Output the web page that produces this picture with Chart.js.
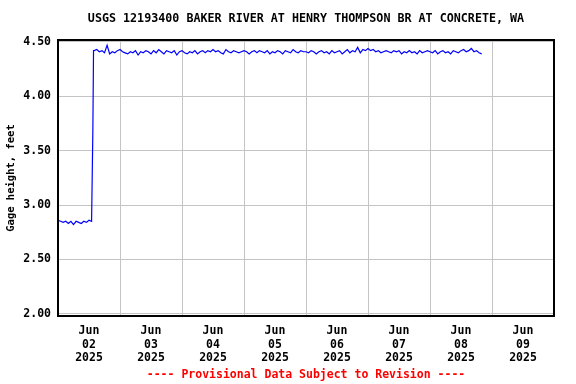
<!DOCTYPE html>
<html>
<head>
<meta charset="utf-8">
<script src="https://cdn.jsdelivr.net/npm/chart.js@4/dist/chart.umd.min.js"></script>
<style>
	html, body { margin: 0; padding: 0; background: #fff; }
	#wrap { width: 576px; height: 384px; }
</style>
</head>
<body>
<div id="wrap"><canvas id="chart" width="576" height="384"></canvas></div>
<script>
const TITLE = "USGS 12193400 BAKER RIVER AT HENRY THOMPSON BR AT CONCRETE, WA";
const FOOTER = "---- Provisional Data Subject to Revision ----";
const Y_TITLE = "Gage height, feet";

// x is hours since Jun 02 2025 00:00
const DAY_LABELS = ["Jun\n02\n2025", "Jun\n03\n2025", "Jun\n04\n2025", "Jun\n05\n2025",
	"Jun\n06\n2025", "Jun\n07\n2025", "Jun\n08\n2025", "Jun\n09\n2025"];
const Y_TICKS = [2.0, 2.5, 3.0, 3.5, 4.0, 4.5];

// hourly gage height readings, hour 0 .. 164
const lowLevel = [2.86, 2.85, 2.84, 2.85, 2.83, 2.85, 2.82, 2.85, 2.84, 2.83, 2.85, 2.84, 2.86, 2.85];
const jun02 = [4.42, 4.43, 4.41, 4.42, 4.40, 4.47, 4.39, 4.41, 4.40, 4.42];
const jun03 = [4.43, 4.41, 4.40, 4.39, 4.41, 4.40, 4.42, 4.38, 4.41, 4.40, 4.42, 4.41,
	4.39, 4.42, 4.40, 4.43, 4.41, 4.39, 4.42, 4.41, 4.40, 4.42, 4.38, 4.41];
const jun04 = [4.42, 4.40, 4.39, 4.41, 4.40, 4.42, 4.39, 4.41, 4.42, 4.40, 4.42, 4.41,
	4.43, 4.41, 4.42, 4.40, 4.39, 4.43, 4.41, 4.40, 4.42, 4.41, 4.40, 4.41];
const jun05 = [4.42, 4.41, 4.39, 4.41, 4.42, 4.40, 4.42, 4.41, 4.40, 4.42, 4.39, 4.41,
	4.40, 4.42, 4.41, 4.39, 4.42, 4.41, 4.40, 4.43, 4.41, 4.40, 4.42, 4.41];
const jun06 = [4.41, 4.40, 4.42, 4.41, 4.39, 4.41, 4.42, 4.40, 4.41, 4.39, 4.42, 4.40,
	4.41, 4.42, 4.39, 4.41, 4.43, 4.40, 4.42, 4.41, 4.45, 4.40, 4.43, 4.42];
const jun07 = [4.44, 4.42, 4.43, 4.41, 4.42, 4.40, 4.41, 4.42, 4.41, 4.40, 4.42, 4.41,
	4.42, 4.39, 4.41, 4.40, 4.42, 4.40, 4.41, 4.39, 4.42, 4.40, 4.41, 4.42];
const jun08 = [4.41, 4.40, 4.42, 4.39, 4.41, 4.42, 4.40, 4.41, 4.39, 4.42, 4.41, 4.40,
	4.42, 4.43, 4.41, 4.42, 4.44, 4.41, 4.42, 4.40, 4.39];
// the jump between hour 13 and 14
const jumpHours = [13.5, 13.75];
const jumpValues = [3.70, 4.42];

const hourly = [...lowLevel, ...jun02, ...jun03, ...jun04, ...jun05, ...jun06, ...jun07, ...jun08];
const points = hourly.map((y, x) => ({ x, y }));
jumpHours.forEach((h, i) => points.splice(14 + i, 0, { x: h, y: jumpValues[i] }));

const FONT = "'DejaVu Sans Mono', monospace";
Chart.defaults.font.family = FONT;
Chart.defaults.font.weight = "bold";
Chart.defaults.color = "#000";

const frameAndText = {
	id: "frameAndText",
	afterDraw(chart) {
		const { ctx, chartArea: a } = chart;
		ctx.save();
		ctx.strokeStyle = "#000";
		ctx.lineWidth = 2;
		ctx.strokeRect(a.left, a.top, a.right - a.left, a.bottom - a.top);
		const cx = (a.left + a.right) / 2;
		ctx.textAlign = "center";
		ctx.textBaseline = "middle";
		ctx.fillStyle = "#000";
		ctx.font = `bold 11.7px ${FONT}`;
		ctx.fillText(TITLE, cx, 19);
		ctx.fillStyle = "#f00";
		ctx.font = `bold 11.5px ${FONT}`;
		ctx.fillText(FOOTER, cx, 375);
		ctx.restore();
	},
};

new Chart(document.getElementById("chart"), {
	type: "line",
	data: {
		datasets: [{
			data: points,
			borderColor: "#0000ff",
			borderWidth: 1.2,
			pointRadius: 0,
			tension: 0,
		}],
	},
	options: {
		responsive: false,
		animation: false,
		layout: { padding: { top: 40, right: 22, bottom: 20, left: 0 } },
		plugins: { legend: { display: false }, tooltip: { enabled: false } },
		scales: {
			x: {
				type: "linear",
				min: 0,
				max: 192,
				afterBuildTicks: (s) => { s.ticks = Array.from({ length: 17 }, (_, i) => ({ value: i * 12 })); },
				afterFit: (s) => { s.height = 48; },
				border: { display: false },
				grid: {
					drawTicks: false,
					color: (c) => (c.tick && c.tick.value % 24 === 0 ? "#c4c4c4" : "rgba(0,0,0,0)"),
				},
				ticks: {
					maxRotation: 0,
					autoSkip: false,
					padding: 8,
					font: { size: 11.5 },
					callback: (v) => (v % 24 === 12 ? DAY_LABELS[(v - 12) / 24].split("\n") : ""),
				},
			},
			y: {
				min: 1.979,
				max: 4.518,
				afterBuildTicks: (s) => { s.ticks = Y_TICKS.map((value) => ({ value })); },
				afterFit: (s) => { s.width = 58; },
				border: { display: false },
				grid: { drawTicks: false, color: "#c4c4c4" },
				ticks: { padding: 7, font: { size: 11.5 }, callback: (v) => v.toFixed(2) },
				title: { display: true, text: Y_TITLE, font: { size: 10.5 }, padding: { top: 5, bottom: 0 } },
			},
		},
	},
	plugins: [frameAndText],
});
</script>
</body>
</html>
